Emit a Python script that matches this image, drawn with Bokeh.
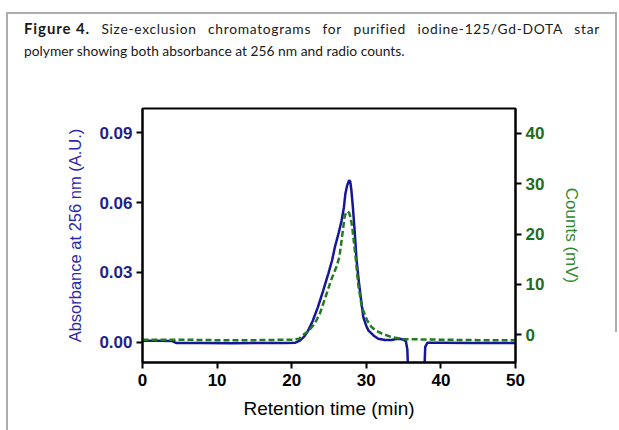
from bokeh.plotting import figure
from bokeh.models import Range1d, LinearAxis, FixedTicker, PrintfTickFormatter, Div
from bokeh.layouts import column
from bokeh.embed import file_html
from bokeh.resources import INLINE

# ---- data ----
time_abs = [0, 2, 4, 4.5, 8, 12, 16, 19, 20.5, 21.1, 21.7, 22.2, 22.8, 23.5, 24.2,
            24.9, 25.4, 25.8, 26.3, 26.7, 27.0, 27.2, 27.45, 27.7, 27.85, 28.0, 28.2,
            28.4, 28.7, 29.0, 29.2, 29.6, 30.0, 30.3, 31.0, 31.6, 32.5, 33.4, 34.0,
            34.5, 35.0, 35.3, 35.5, 35.7, 37.7, 37.9, 38.2, 40, 44, 48, 50]
absorbance = [0.0006, 0.0006, 0.0005, -0.0003, -0.0003, -0.0004, -0.0003, -0.0003,
              -0.0002, 0.0007, 0.0025, 0.005, 0.009, 0.015, 0.022, 0.0294, 0.035,
              0.041, 0.047, 0.0524, 0.058, 0.0639, 0.0675, 0.0696, 0.069, 0.0653,
              0.058, 0.0495, 0.0352, 0.026, 0.0208, 0.0108, 0.007, 0.005, 0.0028,
              0.0015, 0.0010, 0.0010, 0.0014, 0.0015, 0.0010, 0.0005, -0.003, -0.02,
              -0.02, -0.002, -0.0002, -0.0002, -0.0003, -0.0003, -0.0003]

time_counts = [0, 5, 10, 15, 20, 21.0, 21.5, 22.3, 23.1, 23.8, 24.4, 25.3, 26.0, 26.4,
               26.7, 27.1, 27.3, 27.5, 27.7, 27.9, 28.1, 28.3, 28.6, 28.9, 29.4, 30.1,
               30.7, 31.3, 32.1, 33.4, 35, 40, 45, 50]
counts = [-1.0, -1.0, -1.1, -1.1, -1.0, -0.8, -0.1, 0.8, 2.2, 4.3, 6.9, 10.9, 13.5,
          15.5, 18.9, 23.5, 24.3, 24.5, 24.2, 23.2, 21.5, 18.9, 14.9, 10.2, 5.5, 2.9,
          1.5, 0.8, 0.2, -0.5, -0.9, -1.0, -1.1, -1.1]

x_ticks = [0, 10, 20, 30, 40, 50]
abs_ticks = [0.0, 0.03, 0.06, 0.09]
count_ticks = [0, 10, 20, 30, 40]

caption_bold = "Figure 4."
caption_line1 = "Size-exclusion chromatograms for purified iodine-125/Gd-DOTA star"
caption_line2 = "polymer showing both absorbance at 256 nm and radio counts."

BLUE_LINE = "#16169a"
BLUE_TXT = "#1f1f8c"
BLUE_LBL = "#2a2aa6"
GREEN_LINE = "#237a23"
GREEN_TXT = "#1f6b1f"
GREEN_LBL = "#2e8a2e"
FONT = "Liberation Sans"
GRAY = "#adadad"

W, H_DIV, H_FIG = 619, 62, 368

div = Div(
    text=(
        '<div style="box-sizing:border-box;width:619px;height:62px;'
        'padding:18px 19px 0 24px;font-family:Lato;font-size:13.8px;'
        'line-height:21.7px;color:#1a1a1a;">'
        '<div style="white-space:nowrap;display:flex;justify-content:space-between;'
        'letter-spacing:0.7px;">'
        f'<span style="font-weight:bold;font-size:15px;letter-spacing:0.9px;">{caption_bold}</span>'
        + "".join(f"<span>{w}</span>" for w in caption_line1.split(" "))
        + '</div>'
        f'<div>{caption_line2}</div></div>'
    ),
    width=W, height=H_DIV, margin=(0, 0, 0, 0),
)

p = figure(width=W, height=H_FIG, output_backend="svg", toolbar_location=None,
           x_range=Range1d(0, 50), y_range=Range1d(-0.0087, 0.1004),
           min_border_left=142, min_border_right=104, min_border_top=46,
           min_border_bottom=68, margin=(0, 0, 0, 0))
p.extra_y_ranges = {"counts": Range1d(-5.54, 44.96)}

p.xgrid.visible = False
p.ygrid.visible = False
p.outline_line_color = "black"
p.outline_line_width = 2
p.background_fill_color = "white"
p.border_fill_color = None

def style_axis(ax, color, lbl_color, lbl_size):
    ax.axis_line_width = 2
    ax.axis_line_color = "black"
    ax.major_tick_line_width = 2
    ax.major_tick_line_color = "black"
    ax.major_tick_out = 6
    ax.major_tick_in = 0
    ax.minor_tick_line_color = None
    ax.major_label_text_font = FONT
    ax.major_label_text_font_style = "bold"
    ax.major_label_text_font_size = "17px"
    ax.major_label_text_color = color
    ax.major_label_standoff = 4
    ax.axis_label_text_font = FONT
    ax.axis_label_text_font_style = "normal"
    ax.axis_label_text_font_size = lbl_size
    ax.axis_label_text_color = lbl_color

xa = p.xaxis[0]
style_axis(xa, "black", "black", "19px")
xa.ticker = FixedTicker(ticks=x_ticks)
xa.axis_label = "Retention time (min)"
xa.axis_label_standoff = 9
xa.major_label_standoff = 5

ya = p.yaxis[0]
style_axis(ya, BLUE_TXT, BLUE_LBL, "16.5px")
ya.ticker = FixedTicker(ticks=abs_ticks)
ya.formatter = PrintfTickFormatter(format="%.2f")
ya.axis_label = "Absorbance at 256 nm (A.U.)"
ya.axis_label_standoff = 12

ra = LinearAxis(y_range_name="counts")
style_axis(ra, GREEN_TXT, GREEN_LBL, "17px")
ra.ticker = FixedTicker(ticks=count_ticks)
ra.axis_label = "Counts (mV)"
ra.axis_label_standoff = 15
p.add_layout(ra, "right")

p.line(time_abs, absorbance, line_color=BLUE_LINE, line_width=2.5)
p.line(time_counts, counts, line_color=GREEN_LINE, line_width=2.5,
       line_dash="6 3", y_range_name="counts")

frame_bg = (
    f"linear-gradient({GRAY},{GRAY}) 6px 12px / 2px 418px no-repeat, "
    f"linear-gradient({GRAY},{GRAY}) 6px 12px / 611px 2px no-repeat, "
    f"linear-gradient({GRAY},{GRAY}) 615px 12px / 2px 320px no-repeat, white"
)
layout = column(div, p, margin=(0, 0, 0, 0), styles={"background": frame_bg})

open("out.html", "w").write(file_html(layout, INLINE))
